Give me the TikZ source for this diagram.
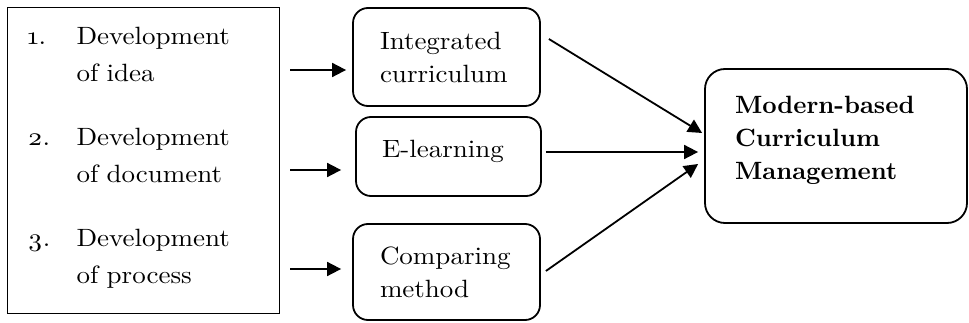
\documentclass[tikz,border=0pt]{standalone}
\usepackage{fontspec}
\setmainfont{lmroman10-regular}[Extension=.otf, BoldFont=lmroman10-bold,
  UprightFeatures={FakeStretch=1.08}]
\usetikzlibrary{arrows.meta,calc}
\begin{document}
\begin{tikzpicture}[x=1pt,y=-1pt,
  txt/.style={font=\fontsize{25}{33}\selectfont},
  rbox/.style={draw, line width=1.8pt, rounded corners=15pt, inner sep=0pt, align=left},
  arr/.style={line width=1.8pt, -{Triangle[length=14pt,width=14pt]}}]
\useasboundingbox (0,0) rectangle (969,323);

% left box
\node[draw, line width=1.2pt, anchor=north west, inner xsep=20pt, inner ysep=0pt,
      minimum width=272pt, minimum height=306pt, text width=232pt, align=left,
      font=\fontsize{25}{37}\selectfont] (L) at (7,7) {%
  \begin{tabular}{@{}p{49pt}@{}l@{}}
  {\addfontfeatures{Numbers=OldStyle}1.} & Development\\ & of idea\\[27pt]
  {\addfontfeatures{Numbers=OldStyle}2.} & Development\\ & of document\\[27pt]
  {\addfontfeatures{Numbers=OldStyle}3.} & Development\\ & of process\rule[-19.1pt]{0pt}{1pt}
  \end{tabular}};

% middle boxes
\node[rbox, txt, minimum width=187pt, minimum height=98pt, text width=133pt] (B1) at (446.5,57)
  {Integrated\\curriculum};
\node[rbox, txt, minimum width=185pt, minimum height=79pt, text width=133pt] (B2) at (448.5,156.5)
  {E-learning\rule[-14.4pt]{0pt}{1pt}};
\node[rbox, txt, minimum width=187pt, minimum height=96pt, text width=133pt] (B3) at (446.5,272)
  {Comparing\\method};

% right box
\node[rbox, txt, font=\fontsize{25}{33}\selectfont\bfseries, rounded corners=20pt,
      minimum width=262pt, minimum height=154pt, text width=202pt] (R) at (836,146)
  {Modern-based\\Curriculum\\Management\rule[-15.4pt]{0pt}{1pt}};

% small arrows
\coordinate (s1) at (0,70);
\coordinate (s2) at (0,170);
\coordinate (s3) at (0,269);
\draw[arr, shorten <=10pt, shorten >=6pt] (L.east |- s1) -- (B1.west |- s1);
\draw[arr, shorten <=10pt, shorten >=14pt] (L.east |- s2) -- (B2.west |- s2);
\draw[arr, shorten <=10pt, shorten >=11pt] (L.east |- s3) -- (B3.west |- s3);

% big arrows
\draw[arr] ($(B1.east)+(8,-18)$) -- ($(R.west)+(-2,-13)$);
\draw[arr] ($(B2.east)+(4,-4.5)$) -- ($(R.west)+(-6,6)$);
\draw[arr] ($(B3.east)+(5,-1)$) -- ($(R.west)+(-6,18)$);
\end{tikzpicture}
\end{document}
